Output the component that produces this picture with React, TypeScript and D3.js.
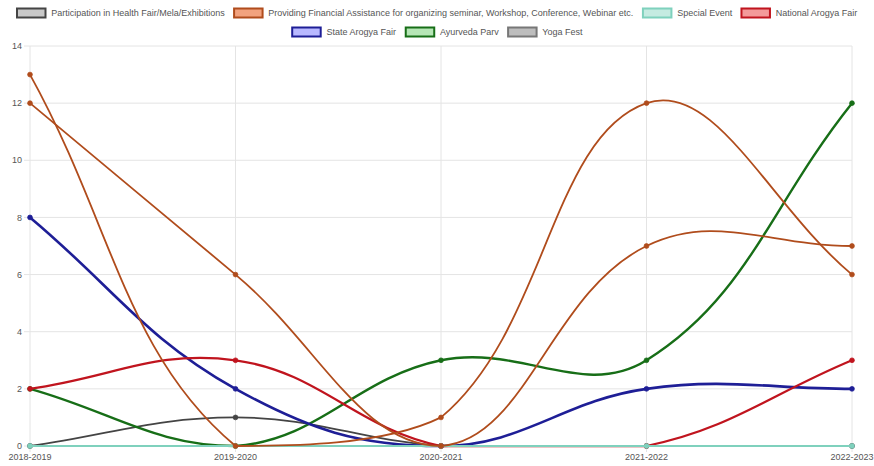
import React from 'react';
import * as d3 from 'd3';

const categories = ['2018-2019', '2019-2020', '2020-2021', '2021-2022', '2022-2023'];
const participationHealthFair = [0, 1, 0, 0, 0];
const financialAssistance = [13, 0, 1, 12, 6];
const financialAssistanceB = [12, 6, 0, 7, 7];
const specialEvent = [0, 0, 0, 0, 0];
const nationalArogyaFair = [2, 3, 0, 0, 3];
const stateArogyaFair = [8, 2, 0, 2, 2];
const ayurvedaParv = [2, 0, 3, 3, 12];
const yogaFest = [0, 0, 0, 0, 0];
const yTicks = [0, 2, 4, 6, 8, 10, 12, 14];

type Series = { label: string; values: number[]; border: string; bg: string; width: number; legend: boolean; row: number; z: number };

const series: Series[] = [
  { label: 'Participation in Health Fair/Mela/Exhibitions', values: participationHealthFair, border: '#444444', bg: '#c9c9c9', width: 1.8, legend: true, row: 0, z: 1 },
  { label: 'Providing Financial Assistance for organizing seminar, Workshop, Conference, Webinar etc.', values: financialAssistance, border: '#b04c1c', bg: '#f2a27e', width: 1.8, legend: true, row: 0, z: 8 },
  { label: 'Providing Financial Assistance (other)', values: financialAssistanceB, border: '#b04c1c', bg: '#f2a27e', width: 1.8, legend: false, row: 0, z: 7 },
  { label: 'Special Event', values: specialEvent, border: '#7fd1bd', bg: '#c5ebe1', width: 2, legend: true, row: 0, z: 6 },
  { label: 'National Arogya Fair', values: nationalArogyaFair, border: '#c0141e', bg: '#f39a9a', width: 2.25, legend: true, row: 0, z: 5 },
  { label: 'State Arogya Fair', values: stateArogyaFair, border: '#1e1e96', bg: '#b8b8ff', width: 2.6, legend: true, row: 1, z: 4 },
  { label: 'Ayurveda Parv', values: ayurvedaParv, border: '#176e17', bg: '#b6e6b6', width: 2.4, legend: true, row: 1, z: 3 },
  { label: 'Yoga Fest', values: yogaFest, border: '#777777', bg: '#bdbdbd', width: 1.8, legend: true, row: 1, z: 0 },
];

const W = 874, H = 466;
const L = 30, R = 852, T = 46, B = 446;

function chartJsCurve(area: { left: number; right: number; top: number; bottom: number }, t = 0.4) {
  return function (context: any) {
    let pts: [number, number][] = [];
    const cap = (v: number, lo: number, hi: number) => Math.max(Math.min(v, hi), lo);
    return {
      areaStart() {},
      areaEnd() {},
      lineStart() { pts = []; },
      point(x: number, y: number) { pts.push([+x, +y]); },
      lineEnd() {
        const n = pts.length;
        if (!n) return;
        const cps = pts.map((p, i) => {
          const prev = pts[i - 1] || p;
          const next = pts[i + 1] || p;
          const d01 = Math.hypot(p[0] - prev[0], p[1] - prev[1]);
          const d12 = Math.hypot(next[0] - p[0], next[1] - p[1]);
          let s01 = d01 / (d01 + d12);
          let s12 = d12 / (d01 + d12);
          if (isNaN(s01)) s01 = 0;
          if (isNaN(s12)) s12 = 0;
          const fa = t * s01, fb = t * s12;
          return {
            px: cap(p[0] - fa * (next[0] - prev[0]), area.left, area.right),
            py: cap(p[1] - fa * (next[1] - prev[1]), area.top, area.bottom),
            nx: cap(p[0] + fb * (next[0] - prev[0]), area.left, area.right),
            ny: cap(p[1] + fb * (next[1] - prev[1]), area.top, area.bottom),
          };
        });
        context.moveTo(pts[0][0], pts[0][1]);
        for (let i = 1; i < n; i++) {
          context.bezierCurveTo(cps[i - 1].nx, cps[i - 1].ny, cps[i].px, cps[i].py, pts[i][0], pts[i][1]);
        }
      },
    };
  };
}

const FONT = '"Liberation Sans", Arial, sans-serif';
const FS = 9;

function measure(text: string): number {
  const c = document.createElement('canvas').getContext('2d');
  if (!c) return text.length * FS * 0.5;
  c.font = `${FS}px ${FONT}`;
  return c.measureText(text).width;
}

export default function App() {
  React.useEffect(() => {
    document.body.style.margin = '0';
  }, []);

  const x = d3.scalePoint<string>().domain(categories).range([L, R]);
  const y = d3.scaleLinear().domain([0, 14]).range([B, T]);
  const line = d3
    .line<number>()
    .x((_, i) => x(categories[i]) as number)
    .y((d) => y(d))
    .curve(chartJsCurve({ left: L, right: R, top: T, bottom: B }) as any);

  // legend layout
  const boxW = 30, boxH = 9, gapText = 5, pad = 8.5;
  const legendItems = series.filter((s) => s.legend);
  const rows: { s: Series; x: number; w: number }[][] = [[], []];
  [0, 1].forEach((r) => {
    const items = legendItems.filter((s) => s.row === r);
    const widths = items.map((s) => boxW + gapText + measure(s.label));
    const total = widths.reduce((a, b) => a + b, 0) + pad * (items.length - 1);
    let cx = W / 2 - total / 2;
    items.forEach((s, i) => {
      rows[r].push({ s, x: cx, w: widths[i] });
      cx += widths[i] + pad;
    });
  });
  const rowY = [13, 32];

  const drawOrder = [...series].sort((a, b) => a.z - b.z);

  return (
    <svg width={W} height={H} style={{ display: 'block', background: '#fff' }} fontFamily={FONT}>
      {/* grid */}
      {yTicks.map((v) => (
        <line key={'gy' + v} x1={L - 6} x2={R} y1={y(v)} y2={y(v)} stroke="#e4e4e4" strokeWidth={1} />
      ))}
      {categories.map((c) => (
        <line key={'gx' + c} x1={x(c)} x2={x(c)} y1={T} y2={B + 6} stroke="#e4e4e4" strokeWidth={1} />
      ))}
      {/* y labels */}
      {yTicks.map((v) => (
        <text key={'ty' + v} x={L - 8} y={y(v)} dy="0.35em" textAnchor="end" fontSize={FS} fill="#555">
          {v}
        </text>
      ))}
      {/* x labels */}
      {categories.map((c) => (
        <text key={'tx' + c} x={x(c)} y={B + 11} dy="0.35em" textAnchor="middle" fontSize={FS} fill="#555">
          {c}
        </text>
      ))}
      {/* lines */}
      {drawOrder.map((s) => (
        <g key={s.label}>
          <path d={line(s.values) || ''} fill="none" stroke={s.border} strokeWidth={s.width} />
          {s.values.map((v, i) => (
            <circle key={i} cx={x(categories[i])} cy={y(v)} r={2.4} fill={s.border} stroke={s.border} strokeWidth={0.75} />
          ))}
        </g>
      ))}
      {/* legend */}
      {rows.map((row, r) =>
        row.map((it) => (
          <g key={it.s.label}>
            <rect x={it.x + 0.75} y={rowY[r] - boxH / 2} width={boxW - 1.5} height={boxH} fill={it.s.bg} stroke={it.s.border} strokeWidth={2} />
            <text x={it.x + boxW + gapText} y={rowY[r]} dy="0.35em" fontSize={FS} fill="#555">
              {it.s.label}
            </text>
          </g>
        ))
      )}
    </svg>
  );
}
